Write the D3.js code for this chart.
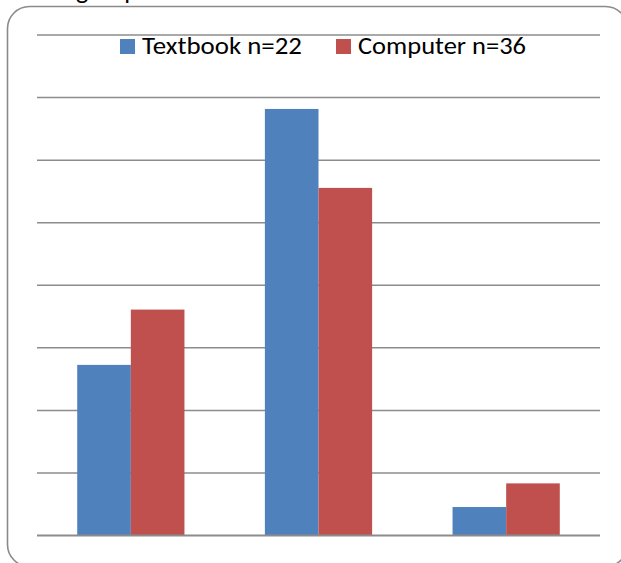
<!DOCTYPE html>
<html>
<head>
<meta charset="utf-8">
<script src="https://cdn.jsdelivr.net/npm/d3@7/dist/d3.min.js"></script>
<style>
  html, body { margin: 0; padding: 0; background: #fff; }
  svg { display: block; }
  text { font-family: Carlito, Calibri, Lato, "Open Sans", sans-serif; fill: #000; }
</style>
</head>
<body>
<svg id="chart" width="621" height="563"></svg>
<script>
// Share of students in each of three response groups (percent of n)
const categories = ["Group 1", "Group 2", "Group 3"];
const seriesNames = ["Textbook n=22", "Computer n=36"];
const textbookValues = [27.27, 68.18, 4.55];   // 6, 15, 1 of 22
const computerValues = [36.11, 55.56, 8.33];   // 13, 20, 3 of 36
const yTicks = [0, 10, 20, 30, 40, 50, 60, 70, 80];
const colors = ["#4f81bd", "#c0504d"];

const svg = d3.select("#chart");

// caption text above the chart frame, mostly clipped by the top edge
svg.append("text")
  .attr("x", 76).attr("y", -1.5)
  .attr("font-size", 26)
  .text("group");

// rounded chart-area frame
svg.append("rect")
  .attr("x", 7.5).attr("y", 6.5)
  .attr("width", 620).attr("height", 560)
  .attr("rx", 22).attr("ry", 22)
  .attr("fill", "#fff")
  .attr("stroke", "#8a8a8a")
  .attr("stroke-width", 1.6);

const plot = { left: 37, right: 600, top: 35, bottom: 535.5 };

const y = d3.scaleLinear().domain([0, 80]).range([plot.bottom, plot.top]);
const x0 = d3.scaleBand().domain(categories).range([plot.left, plot.right]).padding(0);
const x1 = d3.scaleBand().domain(seriesNames).range([0, x0.bandwidth()])
  .paddingInner(0).paddingOuter(0.75);

// horizontal gridlines
svg.append("g")
  .selectAll("line")
  .data(yTicks.filter(d => d > 0))
  .join("line")
  .attr("x1", plot.left).attr("x2", plot.right)
  .attr("y1", d => y(d)).attr("y2", d => y(d))
  .attr("stroke", "#8c8c8c")
  .attr("stroke-width", 1.5);

const rows = categories.map((c, i) => ({
  category: c,
  values: [textbookValues[i], computerValues[i]].map((v, j) => ({ series: seriesNames[j], value: v, color: colors[j] }))
}));

svg.append("g")
  .selectAll("g")
  .data(rows)
  .join("g")
  .attr("transform", d => `translate(${x0(d.category)},0)`)
  .selectAll("rect")
  .data(d => d.values)
  .join("rect")
  .attr("x", d => x1(d.series))
  .attr("width", x1.bandwidth())
  .attr("y", d => y(d.value))
  .attr("height", d => y(0) - y(d.value))
  .attr("fill", d => d.color);

// category axis baseline
svg.append("line")
  .attr("x1", plot.left).attr("x2", plot.right)
  .attr("y1", y(0)).attr("y2", y(0))
  .attr("stroke", "#8c8c8c")
  .attr("stroke-width", 2);

// legend
const legendItems = [
  { name: seriesNames[0], color: colors[0], x: 120, width: 160 },
  { name: seriesNames[1], color: colors[1], x: 336, width: 168 }
];
const lg = svg.append("g").selectAll("g").data(legendItems).join("g")
  .attr("transform", d => `translate(${d.x},39)`);
lg.append("rect").attr("width", 15).attr("height", 15).attr("fill", d => d.color);
lg.append("text")
  .attr("x", 22).attr("y", 15)
  .attr("font-size", 24)
  .attr("textLength", d => d.width)
  .attr("lengthAdjust", "spacingAndGlyphs")
  .text(d => d.name);
</script>
</body>
</html>
